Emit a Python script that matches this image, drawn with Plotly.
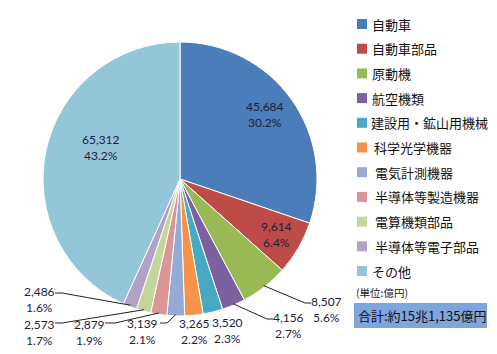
import math
import plotly.graph_objects as go

# ---------------- data ----------------
categories = ["自動車", "自動車部品", "原動機", "航空機類", "建設用・鉱山用機械",
              "科学光学機器", "電気計測機器", "半導体等製造機器", "電算機類部品",
              "半導体等電子部品", "その他"]
values = [45684, 9614, 8507, 4156, 3520, 3265, 3139, 2879, 2573, 2486, 65312]
unit_label = "(単位:億円)"

# ---------------- styles / layout ----------------
colors = ["#4A7DBA", "#BE4B48", "#98B954", "#7D60A0", "#46AAC5", "#F59448",
          "#95ABD6", "#D99694", "#C3D69B", "#B3A2C7", "#93C6D8"]
W, H = 497, 354
CX, CY, R = 180, 179, 137          # pie centre / radius in px
label_xy = [(265, 115), (276, 234), (326, 309), (288, 325), (227, 330.5), (194, 331.5),
            (142, 331.5), (89, 332), (39, 332), (39, 299), (101, 148)]
leaders = [None, None, [(305, 303), (311, 303)], [(267, 319), (273, 319)], None, None,
           [(167, 323), (160, 323)], [(115, 323), (105, 323)], [(62, 323), (55, 323)],
           [(62, 293), (55, 293)], None]
legend_x_sq = 357
legend_text_x = [370, 370, 370, 370, 369, 372, 373, 373, 373, 373, 370]
legend_y0, legend_dy = 24, 24.7

TXT = "#1E2138"
NUM_FONT = dict(family="Lato, Carlito, sans-serif", size=12, color=TXT)
JP_FONT = "Noto Sans CJK JP, sans-serif"


def px(x):
    return x / W


def py(y):
    return 1 - y / H


total = sum(values)

fig = go.Figure()
fig.add_trace(go.Pie(
    labels=categories, values=values, sort=False, direction="clockwise", rotation=0,
    marker=dict(colors=colors, line=dict(color="white", width=1)),
    textinfo="none", hoverinfo="label+value+percent", showlegend=False,
    domain=dict(x=[px(CX - R), px(CX + R)], y=[py(CY + R), py(CY - R)]),
))

annotations = []
shapes = []

# slice labels and leader lines
cum = 0
for i, v in enumerate(values):
    mid = (cum + v / 2) / total * 2 * math.pi
    cum += v
    pct = v / total * 100
    lx, ly = label_xy[i]
    annotations.append(dict(x=px(lx), y=py(ly), xref="paper", yref="paper",
                            text=f"{v:,}<br>{pct:.1f}%", showarrow=False,
                            xanchor="center", yanchor="middle", align="center",
                            font=NUM_FONT))
    if leaders[i]:
        ex = CX + R * 0.99 * math.sin(mid)
        ey = CY - R * 0.99 * math.cos(mid)
        pts = [(ex, ey)] + leaders[i]
        path = "M " + " L ".join(f"{px(a)},{py(b)}" for a, b in pts)
        shapes.append(dict(type="path", xref="paper", yref="paper", path=path,
                           line=dict(color="#222222", width=1)))

# legend
for i, name in enumerate(categories):
    yc = legend_y0 + i * legend_dy
    shapes.append(dict(type="rect", xref="paper", yref="paper",
                       x0=px(legend_x_sq), x1=px(legend_x_sq + 10),
                       y0=py(yc + 5), y1=py(yc - 5),
                       fillcolor=colors[i], line=dict(width=0)))
    annotations.append(dict(x=px(legend_text_x[i]), y=py(yc), xref="paper", yref="paper",
                            text=name, showarrow=False, xanchor="left", yanchor="middle",
                            font=dict(family=JP_FONT, size=13, color="#111111")))

# unit note and total box
annotations.append(dict(x=px(354), y=py(292), xref="paper", yref="paper", text=unit_label,
                        showarrow=False, xanchor="left", yanchor="middle",
                        font=dict(family=JP_FONT, size=10.5, color="#1A1A1A")))
shapes.append(dict(type="rect", xref="paper", yref="paper",
                   x0=px(354), x1=px(487), y0=py(328), y1=py(303),
                   fillcolor="#7EA6DC", line=dict(width=0), layer="below"))
cho, oku = divmod(total, 10000)
annotations.append(dict(x=px(356), y=py(315.5), xref="paper", yref="paper",
                        text=f"合計:約{cho}兆{oku:,}億円", showarrow=False,
                        xanchor="left", yanchor="middle",
                        font=dict(family=JP_FONT, size=13, color="#111111")))

fig.update_layout(
    width=W, height=H, margin=dict(l=0, r=0, t=0, b=0),
    paper_bgcolor="white", plot_bgcolor="white",
    annotations=annotations, shapes=shapes, showlegend=False,
)
fig.write_html("out.html")
